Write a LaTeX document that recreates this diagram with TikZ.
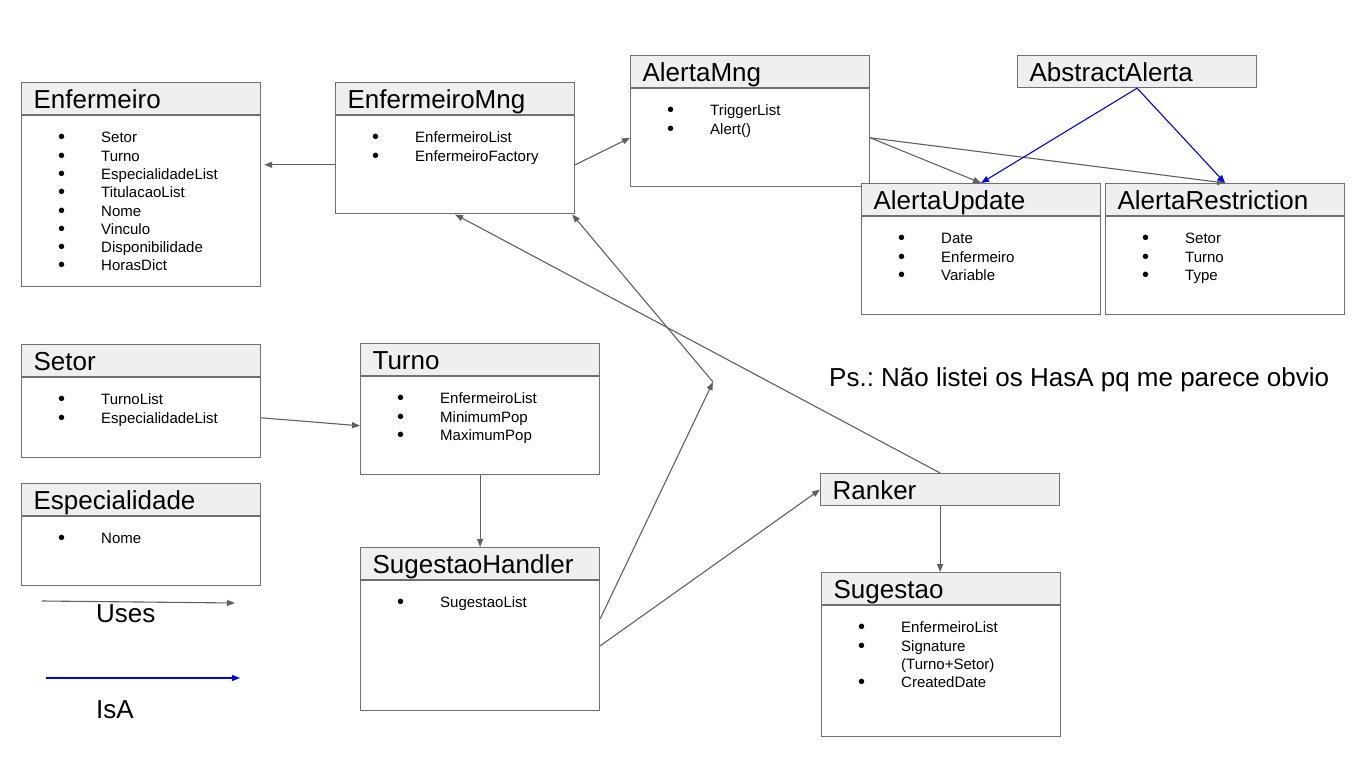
\documentclass[tikz,border=0pt]{standalone}
\usepackage{fontspec}
\setmainfont{Liberation Sans}
\usetikzlibrary{arrows.meta}
\frenchspacing

\definecolor{linegray}{HTML}{5F5F5F}
\definecolor{boxgray}{HTML}{707070}
\definecolor{headfill}{HTML}{EFEFEF}
\definecolor{isablue}{HTML}{0000FF}

\tikzset{
  classhead/.style={draw=boxgray, fill=headfill, line width=1.2pt, anchor=north west,
    minimum width=239pt, minimum height=32pt, text width=215pt, inner xsep=12pt, inner ysep=0pt,
    text height=19pt, text depth=0pt, align=left, font=\fontsize{26}{28}\selectfont},
  classbody/.style={draw=boxgray, line width=1.2pt, anchor=north west, minimum width=239pt, inner sep=0pt},
  classitems/.style={anchor=north west, inner sep=0pt, text width=200pt, align=left,
    font=\fontsize{15}{18.3}\selectfont},
  uses/.style={draw=linegray, line width=1.1pt, -{Triangle[length=8pt,width=6pt]}},
  isa/.style={draw=isablue, line width=1.1pt, -{Triangle[length=8pt,width=6pt]}},
  legendtext/.style={font=\fontsize{26}{28}\selectfont, inner sep=0pt, anchor=base west}
}

% one bullet line of a class body
\newcommand{\itm}[1]{\strut\makebox[43pt][l]{\raisebox{-1pt}{\fontsize{20}{18}\selectfont\textbullet}}#1}
% class box: name, x, y, title, body height, items
\newcommand{\umlclass}[6]{%
  \node[classhead] (#1) at (#2,#3) {#4};
  \node[classbody, minimum height=#5pt] (#1-body) at (#1.south west) {};
  \node[classitems] (#1-items) at ([shift={(37pt,-14.6pt)}]#1-body.north west) {#6};
}

\begin{document}
\begin{tikzpicture}[x=1pt,y=-1pt]
  \useasboundingbox (0,0) rectangle (1366,767);

  % Classes
  \umlclass{Enfermeiro}{21}{82}{Enfermeiro}{171}{\itm{Setor}\\\itm{Turno}\\\itm{EspecialidadeList}\\\itm{TitulacaoList}\\\itm{Nome}\\\itm{Vinculo}\\\itm{Disponibilidade}\\\itm{HorasDict}}
  \umlclass{EnfermeiroMng}{335}{82}{EnfermeiroMng}{98}{\itm{EnfermeiroList}\\\itm{EnfermeiroFactory}}
  \umlclass{AlertaMng}{630}{55}{AlertaMng}{98}{\itm{TriggerList}\\\itm{Alert()}}
  \node[classhead] (AbstractAlerta) at (1017,55) {AbstractAlerta};
  \umlclass{AlertaUpdate}{861}{183}{AlertaUpdate}{98}{\itm{Date}\\\itm{Enfermeiro}\\\itm{Variable}}
  \umlclass{AlertaRestriction}{1105}{183}{AlertaRestriction}{98}{\itm{Setor}\\\itm{Turno}\\\itm{Type}}
  \umlclass{Setor}{21}{344}{Setor}{80}{\itm{TurnoList}\\\itm{EspecialidadeList}}
  \umlclass{Turno}{360}{343}{Turno}{98}{\itm{EnfermeiroList}\\\itm{MinimumPop}\\\itm{MaximumPop}}
  \umlclass{Especialidade}{21}{483}{Especialidade}{69}{\itm{Nome}}
  \umlclass{SugestaoHandler}{360}{547}{SugestaoHandler}{130}{\itm{SugestaoList}}
  \node[classhead] (Ranker) at (820,473) {Ranker};
  \umlclass{Sugestao}{821}{572}{Sugestao}{131}{\itm{EnfermeiroList}\\\itm{Signature}\\\strut\hspace*{43pt}(Turno+Setor)\\\itm{CreatedDate}}

  % Uses
  \draw[uses, shorten >=3pt] (EnfermeiroMng-body.west) -- (EnfermeiroMng-body.west -| Enfermeiro-body.east);
  \draw[uses] (EnfermeiroMng-body.east) -- (AlertaMng-body.west);
  \draw[uses] (AlertaMng-body.east) -- (AlertaUpdate.north);
  \draw[uses] (AlertaMng-body.east) -- (AlertaRestriction.north);
  \draw[uses] (Ranker.north) -- (EnfermeiroMng-body.south);
  \coordinate (relay) at (713,382);
  \draw[uses] ([yshift=27pt]SugestaoHandler-body.east) -- (relay);
  \draw[uses] (relay) -- ([xshift=-3pt]EnfermeiroMng-body.south east);
  \draw[uses] (SugestaoHandler-body.east) -- (Ranker.west);
  \draw[uses] (Turno-body.south) -- (SugestaoHandler.north);
  \draw[uses] (Setor-body.east) -- (Turno-body.west);
  \draw[uses] (Ranker.south) -- (Ranker.south |- Sugestao.north);

  % IsA
  \draw[isa] (AbstractAlerta.south) -- (AlertaUpdate.north);
  \draw[isa] (AbstractAlerta.south) -- (AlertaRestriction.north);

  % Legend and note
  \coordinate (usesFrom) at (42,601);
  \coordinate (usesTo) at (235,603);
  \draw[uses] (usesFrom) -- (usesTo);
  \node[legendtext] (usesLabel) at (96,622) {Uses};
  \coordinate (isaFrom) at (46,678);
  \coordinate (isaTo) at (240,678);
  \draw[isa] (isaFrom) -- (isaTo);
  \node[legendtext] (isaLabel) at (96,718) {IsA};
  \node[legendtext] (psNote) at (829,387) {Ps.: Não listei os HasA pq me parece obvio};
\end{tikzpicture}
\end{document}
